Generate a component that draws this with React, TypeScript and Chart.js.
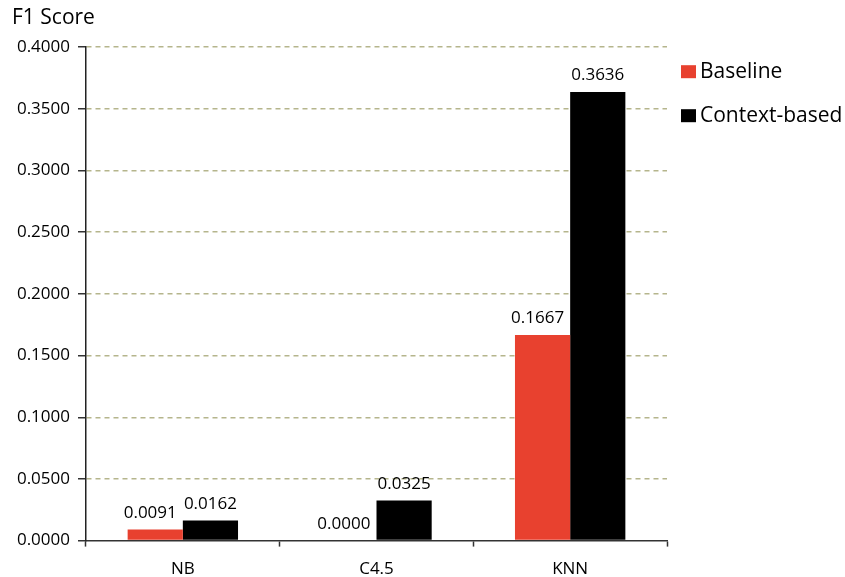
import React, { useEffect, useRef } from "react";
import { Chart, registerables } from "chart.js";

Chart.register(...registerables);

const categories = ["NB", "C4.5", "KNN"];
const seriesLabels = ["Baseline", "Context-based"];
const baselineValues = [0.0091, 0.0, 0.1667];
const contextValues = [0.0162, 0.0325, 0.3636];
const seriesColors = ["#E8412F", "#000000"];
const yMin = 0;
const yMax = 0.4;
const yStep = 0.05;
const titleText = "F1 Score";

const FONT = "'Open Sans', 'DejaVu Sans', sans-serif";
const WEIGHT = "500";

const valueLabelPlugin = {
  id: "valueLabels",
  afterDatasetsDraw(chart: any) {
    const ctx = chart.ctx;
    ctx.save();
    ctx.font = `${WEIGHT} 17px ${FONT}`;
    ctx.fillStyle = "#000";
    ctx.textAlign = "center";
    ctx.textBaseline = "bottom";
    chart.data.datasets.forEach((ds: any, di: number) => {
      const meta = chart.getDatasetMeta(di);
      const dx = di === 0 ? -5 : 0;
      meta.data.forEach((el: any, i: number) => {
        const v = ds.data[i] as number;
        ctx.fillText(v.toFixed(4), el.x + dx, el.y - 8);
      });
    });
    ctx.restore();
  },
};

const sideLegendPlugin = {
  id: "sideLegend",
  afterDraw(chart: any) {
    const ctx = chart.ctx;
    const area = chart.chartArea;
    ctx.save();
    ctx.font = `${WEIGHT} 21px ${FONT}`;
    ctx.textAlign = "left";
    ctx.textBaseline = "middle";
    chart.data.datasets.forEach((ds: any, i: number) => {
      const cy = area.top + 25 + i * 44;
      const bx = area.right + 14;
      ctx.fillStyle = ds.backgroundColor;
      ctx.fillRect(bx, cy - 7, 15, 13);
      ctx.fillStyle = "#000";
      ctx.fillText(ds.label, bx + 19, cy);
    });
    ctx.restore();
  },
};

export default function App() {
  const ref = useRef<HTMLCanvasElement | null>(null);

  useEffect(() => {
    if (!ref.current) return;
    const chart = new Chart(ref.current, {
      type: "bar",
      data: {
        labels: categories,
        datasets: [
          {
            label: seriesLabels[0],
            data: baselineValues,
            backgroundColor: seriesColors[0],
            barPercentage: 1,
            categoryPercentage: 0.57,
          },
          {
            label: seriesLabels[1],
            data: contextValues,
            backgroundColor: seriesColors[1],
            barPercentage: 1,
            categoryPercentage: 0.57,
          },
        ],
      },
      options: {
        animation: false,
        responsive: true,
        maintainAspectRatio: false,
        layout: { padding: { left: 12, right: 178, top: 0, bottom: -14 } },
        plugins: {
          legend: { display: false },
          tooltip: { enabled: false },
          title: {
            display: true,
            text: titleText,
            align: "start",
            color: "#000",
            font: { family: FONT, size: 21, weight: WEIGHT },
            padding: { top: 5, bottom: 17 },
          },
        },
        scales: {
          x: {
            grid: {
              display: true,
              drawOnChartArea: false,
              offset: true,
              tickLength: 6,
              tickColor: "#333",
              tickWidth: 1.5,
            },
            border: { display: true, color: "#333", width: 1.5 },
            ticks: {
              color: "#000",
              padding: 12,
              font: { family: FONT, size: 17, weight: WEIGHT },
            },
          },
          y: {
            min: yMin,
            max: yMax,
            afterFit: (scale: any) => {
              scale.width = 74;
            },
            grid: {
              color: (c: any) => (c.tick && c.tick.value === 0 ? "rgba(0,0,0,0)" : "#B5B58C"),
              lineWidth: 1.5,
              tickLength: 8,
              tickColor: "#333",
              tickWidth: 1.5,
              tickBorderDash: [],
            },
            border: { display: true, color: "#222", width: 1.5, dash: [5, 4] },
            ticks: {
              stepSize: yStep,
              color: "#000",
              padding: 8,
              font: { family: FONT, size: 17, weight: WEIGHT },
              callback: (v: any) => Number(v).toFixed(4),
            },
          },
        },
      },
      plugins: [valueLabelPlugin, sideLegendPlugin],
    });
    return () => chart.destroy();
  }, []);

  return (
    <div style={{ position: "fixed", left: 0, top: 0, width: 845, height: 577, background: "#fff" }}>
      <canvas ref={ref} />
    </div>
  );
}
